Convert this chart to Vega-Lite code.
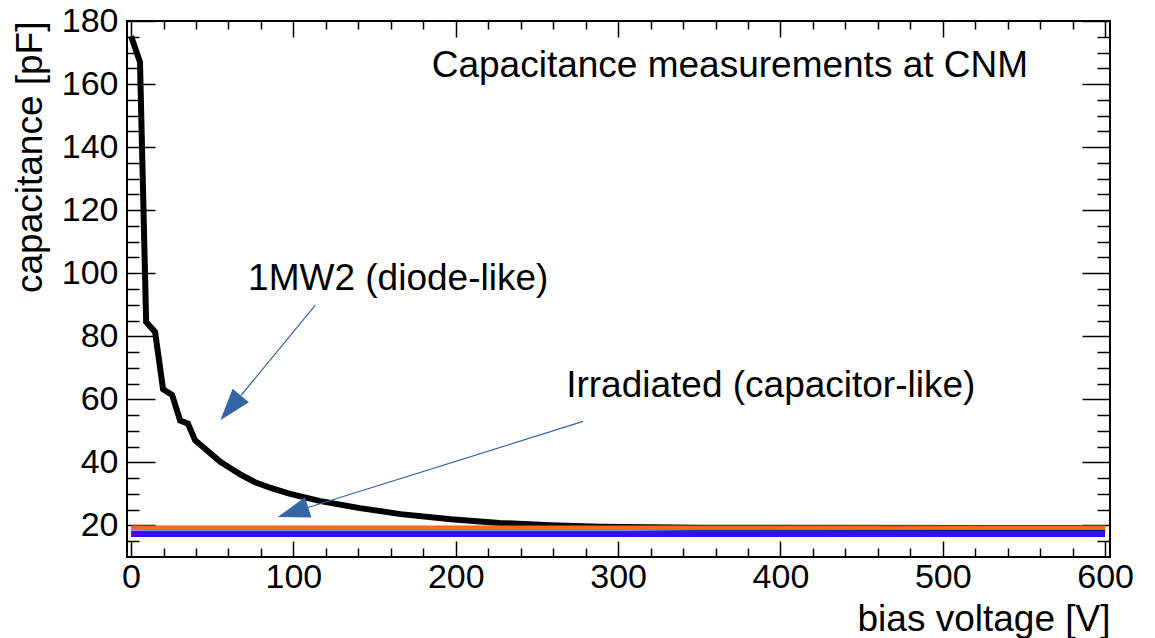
{
  "$schema": "https://vega.github.io/schema/vega-lite/v6.json",
  "width": 983,
  "height": 536,
  "autosize": {"type": "none"},
  "padding": {"left": 127, "top": 21, "right": 45, "bottom": 81},
  "background": "white",
  "config": {
    "view": {"stroke": "black", "strokeWidth": 2},
    "font": "Liberation Sans",
    "axis": {"grid": false, "domain": false, "tickColor": "black", "tickWidth": 1.5, "labelColor": "black", "titleColor": "black", "labelFont": "Liberation Sans", "titleFont": "Liberation Sans", "titleFontWeight": "normal", "labelOverlap": false, "labelFlush": false, "labelBound": false}
  },
  "datasets": {
    "curve": [
      {"v": 0, "c": 175.2}, {"v": 5.5, "c": 167}, {"v": 9.3, "c": 84.5}, {"v": 14.8, "c": 81.4},
      {"v": 19.7, "c": 63.2}, {"v": 25.3, "c": 61.4}, {"v": 30.2, "c": 53.3}, {"v": 35, "c": 52.3},
      {"v": 39.5, "c": 47}, {"v": 44.5, "c": 44.8}, {"v": 50, "c": 42.4}, {"v": 55, "c": 40.2},
      {"v": 61, "c": 38.2}, {"v": 67, "c": 36.3}, {"v": 76, "c": 33.8}, {"v": 86, "c": 31.9},
      {"v": 98, "c": 30}, {"v": 116, "c": 27.8}, {"v": 141, "c": 25.5}, {"v": 166, "c": 23.6},
      {"v": 197, "c": 22}, {"v": 227, "c": 20.8}, {"v": 258, "c": 20.1}, {"v": 289, "c": 19.6},
      {"v": 350, "c": 19.3}, {"v": 600, "c": 19.2}
    ],
    "orange": [{"v": 0, "c": 19.3}, {"v": 600, "c": 19.3}],
    "blue": [{"v": 0, "c": 17.4}, {"v": 600, "c": 17.4}],
    "arrows": [
      {"x": 113.4, "y": 89.8, "x2": 67.8, "y2": 61.3},
      {"x": 278.5, "y": 53.0, "x2": 109, "y2": 25.7}
    ],
    "heads": [
      {"x": 61.3, "y": 57.3, "angle": 219.6},
      {"x": 99.7, "y": 24.2, "angle": 252.6}
    ],
    "labels": [
      {"x": 185.2, "y": 162.1, "t": "Capacitance measurements at CNM"},
      {"x": 72.1, "y": 94.7, "t": "1MW2 (diode-like)"},
      {"x": 268, "y": 60.7, "t": "Irradiated (capacitor-like)"}
    ]
  },
  "resolve": {"axis": {"x": "independent", "y": "independent"}},
  "layer": [
    {
      "data": {"name": "curve"},
      "mark": {"type": "line", "color": "black", "strokeWidth": 6, "strokeJoin": "miter"},
      "encoding": {
        "x": {"field": "v", "type": "quantitative", "scale": {"domain": [-2.5, 603], "nice": false, "zero": false},
          "axis": {"orient": "bottom", "values": [0,20,40,60,80,100,120,140,160,180,200,220,240,260,280,300,320,340,360,380,400,420,440,460,480,500,520,540,560,580,600],
            "tickSize": {"condition": {"test": "datum.value % 100 === 0", "value": -16}, "value": -9},
            "labelExpr": "datum.value % 100 === 0 ? datum.label : ''",
            "labelPadding": 19.5, "labelFontSize": 34, "title": "bias voltage [V]", "titleFontSize": 37, "titleAnchor": "end", "titlePadding": 0}},
        "y": {"field": "c", "type": "quantitative", "scale": {"domain": [10, 180], "nice": false, "zero": false},
          "axis": {"orient": "left", "values": [15,20,25,30,35,40,45,50,55,60,65,70,75,80,85,90,95,100,105,110,115,120,125,130,135,140,145,150,155,160,165,170,175,180],
            "tickSize": {"condition": {"test": "datum.value % 20 === 0", "value": -28}, "value": -12},
            "labelExpr": "datum.value % 20 === 0 ? datum.label : ''",
            "labelPadding": 37, "labelFontSize": 34, "title": "capacitance [pF]", "titleFontSize": 37, "titleAnchor": "end", "titlePadding": 12}}
      }
    },
    {
      "data": {"name": "orange"},
      "mark": {"type": "line", "color": "#ff6a13", "strokeWidth": 4.5},
      "encoding": {
        "x": {"field": "v", "type": "quantitative", "scale": {"domain": [-2.5, 603], "nice": false, "zero": false},
          "axis": {"orient": "top", "values": [0,20,40,60,80,100,120,140,160,180,200,220,240,260,280,300,320,340,360,380,400,420,440,460,480,500,520,540,560,580,600],
            "tickSize": {"condition": {"test": "datum.value % 100 === 0", "value": -16}, "value": -8},
            "labels": false, "title": null}},
        "y": {"field": "c", "type": "quantitative", "scale": {"domain": [10, 180], "nice": false, "zero": false},
          "axis": {"orient": "right", "values": [15,20,25,30,35,40,45,50,55,60,65,70,75,80,85,90,95,100,105,110,115,120,125,130,135,140,145,150,155,160,165,170,175,180],
            "tickSize": {"condition": {"test": "datum.value % 20 === 0", "value": -28}, "value": -13},
            "labels": false, "title": null}}
      }
    },
    {
      "data": {"name": "blue"},
      "mark": {"type": "line", "color": "#3a0cff", "strokeWidth": 6.5},
      "encoding": {
        "x": {"field": "v", "type": "quantitative", "scale": {"domain": [-2.5, 603], "nice": false, "zero": false}, "axis": null},
        "y": {"field": "c", "type": "quantitative", "scale": {"domain": [10, 180], "nice": false, "zero": false}, "axis": null}
      }
    },
    {
      "data": {"name": "arrows"},
      "mark": {"type": "rule", "color": "#3465a4", "strokeWidth": 1.2},
      "encoding": {
        "x": {"field": "x", "type": "quantitative", "scale": {"domain": [-2.5, 603], "nice": false, "zero": false}, "axis": null},
        "y": {"field": "y", "type": "quantitative", "scale": {"domain": [10, 180], "nice": false, "zero": false}, "axis": null},
        "x2": {"field": "x2"},
        "y2": {"field": "y2"}
      }
    },
    {
      "data": {"name": "heads"},
      "mark": {"type": "point", "filled": true, "fill": "#3465a4", "strokeWidth": 0, "opacity": 1, "shape": "M0,-1L0.66,1L-0.66,1Z", "size": 1024},
      "encoding": {
        "x": {"field": "x", "type": "quantitative", "scale": {"domain": [-2.5, 603], "nice": false, "zero": false}, "axis": null},
        "y": {"field": "y", "type": "quantitative", "scale": {"domain": [10, 180], "nice": false, "zero": false}, "axis": null},
        "angle": {"field": "angle", "type": "quantitative", "scale": null}
      }
    },
    {
      "data": {"name": "labels"},
      "mark": {"type": "text", "align": "left", "baseline": "alphabetic", "fontSize": 37, "font": "Liberation Sans", "color": "black"},
      "encoding": {
        "x": {"field": "x", "type": "quantitative", "scale": {"domain": [-2.5, 603], "nice": false, "zero": false}, "axis": null},
        "y": {"field": "y", "type": "quantitative", "scale": {"domain": [10, 180], "nice": false, "zero": false}, "axis": null},
        "text": {"field": "t"}
      }
    }
  ]
}
